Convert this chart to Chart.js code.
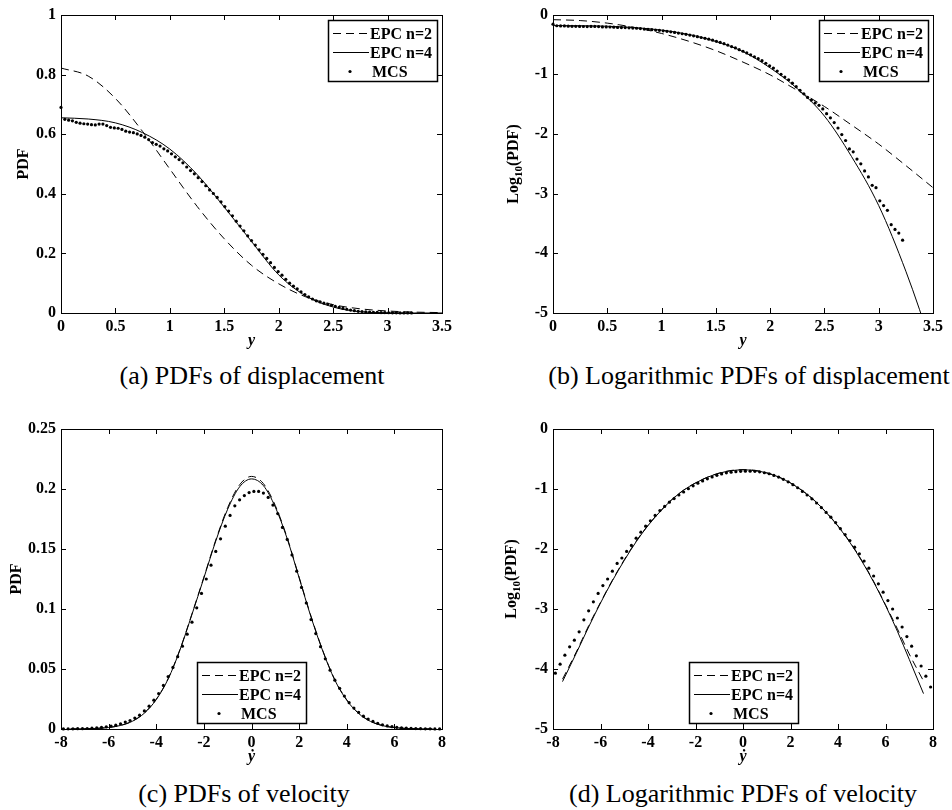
<!DOCTYPE html>
<html>
<head>
<meta charset="utf-8">
<script src="https://cdn.jsdelivr.net/npm/chart.js@4.4.1/dist/chart.umd.min.js"></script>
<style>
  html, body { margin: 0; padding: 0; background: #fff; }
  body { width: 952px; height: 810px; position: relative; overflow: hidden; }
  .pane { position: absolute; }
  .cap { position: absolute; font-family: "Liberation Serif", "Times New Roman", serif; font-size: 26px;
         line-height: 30px; color: #000; white-space: nowrap; transform: translateX(-50%); }
</style>
</head>
<body>
<div class="pane" style="left:0px;top:0px;"><canvas id="ca" width="476" height="355"></canvas></div>
<div class="pane" style="left:476px;top:0px;"><canvas id="cb" width="476" height="355"></canvas></div>
<div class="pane" style="left:0px;top:400px;"><canvas id="cc" width="476" height="370"></canvas></div>
<div class="pane" style="left:476px;top:400px;"><canvas id="cd" width="476" height="370"></canvas></div>
<div class="cap" style="left:252px;top:361px;">(a) PDFs of displacement</div>
<div class="cap" style="left:749px;top:361px;">(b) Logarithmic PDFs of displacement</div>
<div class="cap" style="left:244px;top:779px;">(c) PDFs of velocity</div>
<div class="cap" style="left:743px;top:779px;">(d) Logarithmic PDFs of velocity</div>
<script>
// ---------------- data ----------------
const seriesLabels = ['EPC n=2', 'EPC n=4', 'MCS'];

// displacement, EPC curves
const dispX = [0, 0.25, 0.5, 0.75, 1, 1.25, 1.5, 1.75, 2, 2.25, 2.5, 2.75, 3, 3.25, 3.5];
const pdfDispN2 = [0.822, 0.795, 0.720, 0.609, 0.483, 0.358, 0.249, 0.160, 0.098, 0.054, 0.028, 0.014, 0.0068, 0.003, 0.0013];
const pdfDispN4 = [0.655, 0.651, 0.638, 0.605, 0.550, 0.465, 0.355, 0.240, 0.128, 0.057, 0.020, 0.0042, 0.00063, 0.00005, 0.000003];
const logDispN2 = [-0.085, -0.100, -0.143, -0.215, -0.316, -0.446, -0.604, -0.796, -1.01, -1.27, -1.54, -1.85, -2.17, -2.53, -2.9];
const logDispN4 = [-0.184, -0.186, -0.195, -0.218, -0.26, -0.333, -0.45, -0.62, -0.893, -1.24, -1.70, -2.38, -3.2, -4.3, -5.6];

// displacement, MCS histogram (bin centres from 0, bin width 0.035)
const mcsDispStart = 0;
const mcsDispBin = 0.035;
const mcsDispPdf = [
  0.690, 0.650, 0.647, 0.645, 0.640, 0.637, 0.635, 0.634, 0.632, 0.631,
  0.634, 0.634, 0.629, 0.623, 0.621, 0.620, 0.616, 0.610, 0.607, 0.605,
  0.601, 0.596, 0.590, 0.582, 0.572, 0.566, 0.560, 0.551, 0.544, 0.534,
  0.524, 0.515, 0.504, 0.490, 0.478, 0.467, 0.454, 0.441, 0.427, 0.413,
  0.401, 0.388, 0.373, 0.357, 0.342, 0.326, 0.308, 0.292, 0.276, 0.259,
  0.243, 0.228, 0.212, 0.197, 0.183, 0.169, 0.153, 0.139, 0.127, 0.113,
  0.100, 0.090, 0.081, 0.071, 0.062, 0.054, 0.047, 0.041, 0.037, 0.033,
  0.030, 0.026, 0.022, 0.0186, 0.0155, 0.0126, 0.0098, 0.0078, 0.0056, 0.0050,
  0.0038, 0.0032, 0.0024, 0.0019, 0.0014, 0.0013, 0.00076, 0.00063, 0.00052, 0.0003,
  0.00025, 0.00022, 0.00017
];
const mcsDispLog = [
  -0.161, -0.187, -0.189, -0.190, -0.194, -0.196, -0.197, -0.198, -0.199, -0.200,
  -0.198, -0.198, -0.201, -0.206, -0.207, -0.208, -0.210, -0.215, -0.217, -0.218,
  -0.221, -0.225, -0.229, -0.235, -0.243, -0.247, -0.252, -0.259, -0.264, -0.272,
  -0.281, -0.288, -0.298, -0.310, -0.321, -0.331, -0.343, -0.356, -0.370, -0.384,
  -0.397, -0.411, -0.428, -0.447, -0.466, -0.487, -0.511, -0.535, -0.559, -0.587,
  -0.614, -0.642, -0.674, -0.706, -0.738, -0.772, -0.815, -0.857, -0.896, -0.947,
  -1.000, -1.046, -1.092, -1.149, -1.208, -1.268, -1.328, -1.387, -1.432, -1.48,
  -1.52, -1.58, -1.66, -1.73, -1.81, -1.90, -2.01, -2.11, -2.25, -2.30,
  -2.42, -2.50, -2.62, -2.72, -2.86, -2.90, -3.12, -3.20, -3.28, -3.52,
  -3.60, -3.66, -3.78
];

// velocity, EPC curves
const velX = [-7.6, -7, -6.5, -6, -5.5, -5, -4.5, -4, -3.5, -3, -2.5, -2, -1.5, -1, -0.5, 0,
              0.5, 1, 1.5, 2, 2.5, 3, 3.5, 4, 4.5, 5, 5.5, 6, 6.5, 7, 7.6];
const pdfVelN2 = [0.000068, 0.0002, 0.00052, 0.0013, 0.003, 0.0066, 0.0134, 0.0248, 0.042, 0.0665, 0.096, 0.1265,
                  0.1575, 0.1845, 0.2035, 0.2105, 0.2045, 0.1862, 0.1593, 0.1265, 0.094, 0.065, 0.041, 0.0243,
                  0.0131, 0.0065, 0.0029, 0.00118, 0.00047, 0.00018, 0.000063];
const pdfVelN4 = [0.000062, 0.00019, 0.0005, 0.00126, 0.00295, 0.00646, 0.0132, 0.0245, 0.0417, 0.0661, 0.0955,
                  0.1259, 0.1567, 0.1832, 0.2018, 0.2084, 0.2028, 0.1849, 0.1585, 0.1259, 0.0933, 0.0646, 0.0407,
                  0.0240, 0.0129, 0.0063, 0.0028, 0.00115, 0.00043, 0.000145, 0.000039];
const logVelN2 = [-4.17, -3.70, -3.28, -2.89, -2.52, -2.18, -1.87, -1.605, -1.377, -1.177, -1.018, -0.898, -0.803,
                  -0.734, -0.691, -0.677, -0.689, -0.73, -0.798, -0.898, -1.027, -1.187, -1.387, -1.614, -1.88,
                  -2.19, -2.54, -2.93, -3.33, -3.75, -4.20];
const logVelN4 = [-4.21, -3.72, -3.30, -2.90, -2.53, -2.19, -1.88, -1.61, -1.38, -1.18, -1.02, -0.90, -0.805,
                  -0.737, -0.695, -0.681, -0.693, -0.733, -0.80, -0.90, -1.03, -1.19, -1.39, -1.62, -1.89,
                  -2.20, -2.55, -2.94, -3.37, -3.84, -4.41];

// velocity, MCS histogram (bin centres from -7.9, bin width 0.2)
const mcsVelStart = -7.9;
const mcsVelBin = 0.2;
const mcsVelPdf = [
  0.000085, 0.00012, 0.00017, 0.00023, 0.0003, 0.00042, 0.00066, 0.00093, 0.0013, 0.0018,
  0.0025, 0.0032, 0.0043, 0.0058, 0.0071, 0.0091, 0.0115, 0.0151, 0.019, 0.024,
  0.0295, 0.0363, 0.0437, 0.0513, 0.0603, 0.069, 0.079, 0.089, 0.101, 0.113,
  0.125, 0.1365, 0.148, 0.1585, 0.169, 0.178, 0.186, 0.191, 0.1945, 0.197,
  0.198, 0.198, 0.1966, 0.193, 0.1866, 0.1795, 0.168, 0.158, 0.145, 0.1315,
  0.118, 0.105, 0.0912, 0.0795, 0.0686, 0.0585, 0.049, 0.0407, 0.0339, 0.0275,
  0.0219, 0.0174, 0.0138, 0.0107, 0.0083, 0.0063, 0.0048, 0.0035, 0.0026, 0.0019,
  0.0014, 0.001, 0.0007, 0.0005, 0.00035, 0.00024, 0.000166, 0.000112, 0.000076, 0.00005
];
const mcsVelLog = [
  -4.07, -3.92, -3.77, -3.63, -3.52, -3.38, -3.18, -3.03, -2.88, -2.74,
  -2.61, -2.50, -2.37, -2.24, -2.15, -2.04, -1.94, -1.82, -1.72, -1.62,
  -1.53, -1.44, -1.36, -1.29, -1.22, -1.16, -1.10, -1.05, -0.995, -0.947,
  -0.903, -0.865, -0.83, -0.80, -0.772, -0.749, -0.731, -0.719, -0.711, -0.706,
  -0.703, -0.703, -0.706, -0.714, -0.729, -0.746, -0.774, -0.802, -0.838, -0.881,
  -0.928, -0.979, -1.04, -1.10, -1.164, -1.233, -1.31, -1.39, -1.47, -1.56,
  -1.66, -1.76, -1.86, -1.97, -2.08, -2.20, -2.32, -2.45, -2.58, -2.72,
  -2.86, -3.00, -3.15, -3.30, -3.46, -3.62, -3.78, -3.95, -4.12, -4.30
];

// tick values
const ticksDispX = [0, 0.5, 1, 1.5, 2, 2.5, 3, 3.5];
const ticksVelX = [-8, -6, -4, -2, 0, 2, 4, 6, 8];
const ticksPdfDisp = [0, 0.2, 0.4, 0.6, 0.8, 1];
const ticksPdfVel = [0, 0.05, 0.1, 0.15, 0.2, 0.25];
const ticksLog = [-5, -4, -3, -2, -1, 0];

// ---------------- helpers ----------------
const SERIF = '"Liberation Serif", "Times New Roman", serif';
const DASH = [8, 5];
const pairs = (xs, ys) => ys.map((v, i) => ({ x: xs[i], y: v }));
const binPairs = (start, bin, ys) => ys.map((v, i) => ({ x: +(start + i * bin).toFixed(4), y: v }));

const decor = {
  id: 'decor',
  afterDatasetsDraw(chart, args, o) {
    const { ctx, chartArea: a, scales } = chart;
    const L = Math.round(a.left), T = Math.round(a.top), R = Math.round(a.right), B = Math.round(a.bottom);
    ctx.save();
    ctx.strokeStyle = '#000';
    ctx.lineWidth = 1;
    ctx.setLineDash([]);
    ctx.strokeRect(L + 0.5, T + 0.5, R - L, B - T);
    const tl = 5;
    ctx.beginPath();
    scales.x.ticks.forEach(t => {
      const px = Math.round(scales.x.getPixelForValue(t.value)) + 0.5;
      ctx.moveTo(px, B); ctx.lineTo(px, B - tl);
      ctx.moveTo(px, T); ctx.lineTo(px, T + tl);
    });
    scales.y.ticks.forEach(t => {
      const py = Math.round(scales.y.getPixelForValue(t.value)) + 0.5;
      ctx.moveTo(L, py); ctx.lineTo(L + tl, py);
      ctx.moveTo(R, py); ctx.lineTo(R - tl, py);
    });
    ctx.stroke();

    // legend box
    const bw = 109, bh = 61;
    let bx, by;
    if (o.legendPos === 'topright') { bx = R - 5 - bw; by = T + 5; }
    else { bx = Math.round((L + R) / 2 - bw / 2); by = B - 6 - bh; }
    ctx.fillStyle = '#fff';
    ctx.fillRect(bx, by, bw, bh);
    ctx.lineWidth = 1.5;
    ctx.strokeRect(bx + 0.5, by + 0.5, bw, bh);
    ctx.font = 'bold 16px ' + SERIF;
    ctx.textAlign = 'left';
    ctx.textBaseline = 'middle';
    ctx.fillStyle = '#000';
    const rows = [13, 32, 51];
    chart.data.datasets.forEach((ds, i) => {
      const ry = by + rows[i] + 0.5;
      if (ds.showLine === false) {
        ctx.beginPath();
        ctx.arc(bx + 22, ry, 1.6, 0, Math.PI * 2);
        ctx.fill();
        ctx.fillText(ds.label, bx + 44, ry + 1);
      } else {
        ctx.lineWidth = 1;
        ctx.setLineDash(ds.borderDash || []);
        ctx.beginPath();
        ctx.moveTo(bx + 5, ry); ctx.lineTo(bx + 41, ry);
        ctx.stroke();
        ctx.setLineDash([]);
        ctx.fillText(ds.label, bx + 42, ry + 1);
      }
    });

    // x-axis title
    ctx.textAlign = 'center';
    ctx.textBaseline = 'middle';
    ctx.font = 'italic bold 16px ' + SERIF;
    ctx.fillText(o.xTitle, (L + R) / 2, B + 28);

    // y-axis title (rotated)
    ctx.save();
    ctx.translate(o.yTitleX, (T + B) / 2);
    ctx.rotate(-Math.PI / 2);
    ctx.textBaseline = 'middle';
    if (o.yTitleSub) {
      const big = 'bold 16px ' + SERIF, small = 'bold 11px ' + SERIF;
      ctx.font = big; const w1 = ctx.measureText(o.yTitle).width; const w3 = ctx.measureText(o.yTitleRest).width;
      ctx.font = small; const w2 = ctx.measureText(o.yTitleSub).width;
      const x0 = -(w1 + w2 + w3) / 2;
      ctx.textAlign = 'left';
      ctx.font = big; ctx.fillText(o.yTitle, x0, 0);
      ctx.font = small; ctx.fillText(o.yTitleSub, x0 + w1, 5);
      ctx.font = big; ctx.fillText(o.yTitleRest, x0 + w1 + w2, 0);
    } else {
      ctx.textAlign = 'center';
      ctx.font = 'bold 16px ' + SERIF;
      ctx.fillText(o.yTitle, 0, 0);
    }
    ctx.restore();
    ctx.restore();
  }
};

function makeChart(id, c) {
  const tickFont = { family: SERIF, size: 16, weight: 'bold' };
  return new Chart(document.getElementById(id), {
    type: 'line',
    data: {
      datasets: [
        { label: seriesLabels[0], data: pairs(c.lx, c.n2), borderColor: '#000', borderWidth: 1,
          borderDash: DASH, pointRadius: 0, cubicInterpolationMode: 'monotone', fill: false },
        { label: seriesLabels[1], data: pairs(c.lx, c.n4), borderColor: '#000', borderWidth: 1,
          pointRadius: 0, cubicInterpolationMode: 'monotone', fill: false },
        { label: seriesLabels[2], data: binPairs(c.mStart, c.mBin, c.mv), showLine: false, pointRadius: 1.6,
          pointBackgroundColor: '#000', pointBorderWidth: 0, borderColor: '#000', clip: 4 }
      ]
    },
    options: {
      responsive: false,
      animation: false,
      events: [],
      layout: { padding: { left: 0, top: c.top, right: c.right, bottom: 0 } },
      plugins: {
        legend: { display: false },
        tooltip: { enabled: false },
        decor: c.decor
      },
      scales: {
        x: {
          type: 'linear', min: c.xMin, max: c.xMax,
          afterBuildTicks: s => { s.ticks = c.xTicks.map(v => ({ value: v })); },
          afterFit: s => { s.height = c.xH; },
          grid: { display: false, drawTicks: false },
          border: { display: false },
          ticks: { font: tickFont, color: '#000', padding: 4, maxRotation: 0, autoSkip: false,
                   callback: v => String(v) }
        },
        y: {
          type: 'linear', min: c.yMin, max: c.yMax,
          afterBuildTicks: s => { s.ticks = c.yTicks.map(v => ({ value: v })); },
          afterFit: s => { s.width = c.yW; },
          grid: { display: false, drawTicks: false },
          border: { display: false },
          ticks: { font: tickFont, color: '#000', padding: 5, autoSkip: false,
                   callback: v => String(v) }
        }
      }
    },
    plugins: [decor]
  });
}

makeChart('ca', {
  lx: dispX, n2: pdfDispN2, n4: pdfDispN4, mStart: mcsDispStart, mBin: mcsDispBin, mv: mcsDispPdf,
  xMin: 0, xMax: 3.5, yMin: 0, yMax: 1, xTicks: ticksDispX, yTicks: ticksPdfDisp,
  top: 15, right: 34, yW: 61, xH: 355 - 313,
  decor: { legendPos: 'topright', xTitle: 'y', yTitle: 'PDF', yTitleX: 24 }
});
makeChart('cb', {
  lx: dispX, n2: logDispN2, n4: logDispN4, mStart: mcsDispStart, mBin: mcsDispBin, mv: mcsDispLog,
  xMin: 0, xMax: 3.5, yMin: -5, yMax: 0, xTicks: ticksDispX, yTicks: ticksLog,
  top: 14, right: 476 - 457, yW: 77, xH: 355 - 313,
  decor: { legendPos: 'topright', xTitle: 'y', yTitle: 'Log', yTitleSub: '10', yTitleRest: '(PDF)', yTitleX: 38 }
});
makeChart('cc', {
  lx: velX, n2: pdfVelN2, n4: pdfVelN4, mStart: mcsVelStart, mBin: mcsVelBin, mv: mcsVelPdf,
  xMin: -8, xMax: 8, yMin: 0, yMax: 0.25, xTicks: ticksVelX, yTicks: ticksPdfVel,
  top: 29, right: 34, yW: 61, xH: 370 - 329,
  decor: { legendPos: 'bottom', xTitle: 'ẏ', yTitle: 'PDF', yTitleX: 17 }
});
makeChart('cd', {
  lx: velX, n2: logVelN2, n4: logVelN4, mStart: mcsVelStart, mBin: mcsVelBin, mv: mcsVelLog,
  xMin: -8, xMax: 8, yMin: -5, yMax: 0, xTicks: ticksVelX, yTicks: ticksLog,
  top: 29, right: 476 - 457, yW: 77, xH: 370 - 329,
  decor: { legendPos: 'bottom', xTitle: 'ẏ', yTitle: 'Log', yTitleSub: '10', yTitleRest: '(PDF)', yTitleX: 36 }
});
</script>
</body>
</html>
